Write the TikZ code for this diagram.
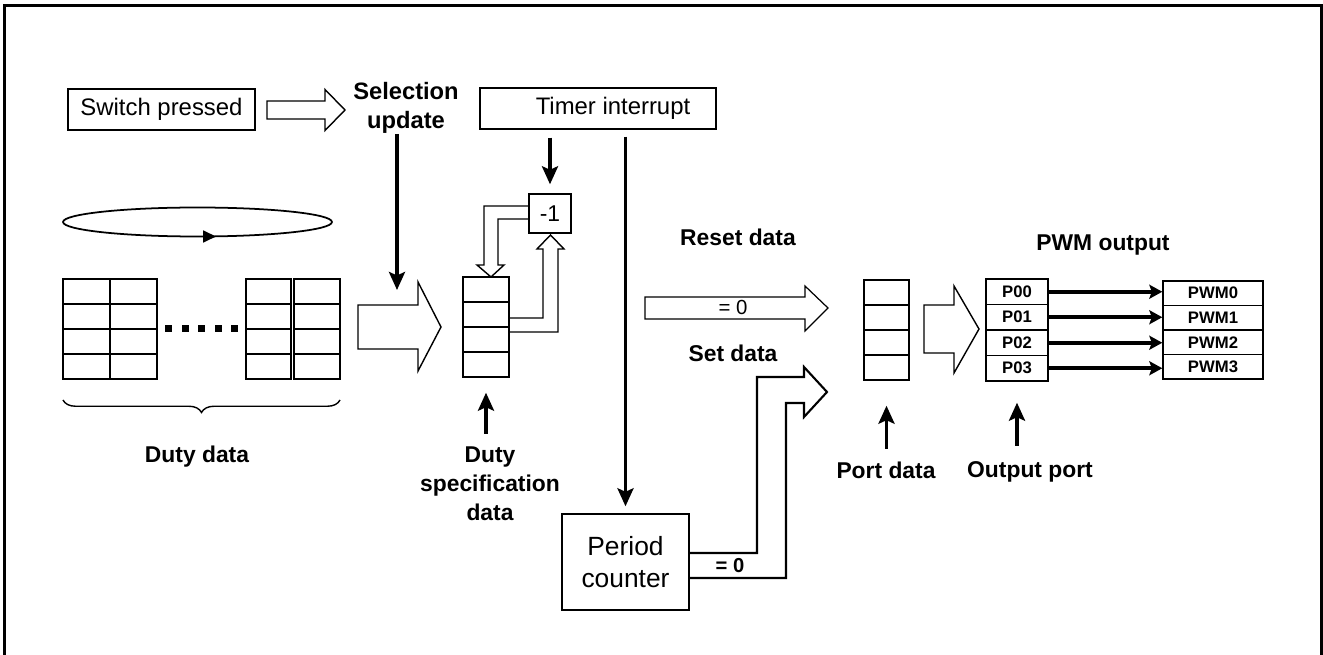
\documentclass[tikz,border=0pt]{standalone}
\usepackage{fontspec}
\setmainfont{Liberation Sans}
\usepackage{tikz}
\usetikzlibrary{decorations.pathreplacing, positioning, calc, arrows.meta}

\begin{document}
\begin{tikzpicture}[x=0.02cm, y=-0.02cm,
        box/.style={draw=black, line width=0.8pt, inner sep=0pt, font=\fontsize{13.6}{16}\selectfont},
        cell/.style={draw=black, line width=0.8pt, inner sep=0pt, minimum width=#1, minimum height=0.5cm},
        lbl/.style={align=center, inner sep=0pt, font=\bfseries\fontsize{13}{16.5}\selectfont},
        portlbl/.style={font=\bfseries\fontsize{9.5}{10}\selectfont},
        hollow/.style={draw=black, line width=0.8pt, line join=miter},
        thk/.style={line width=2pt, -{Stealth[length=0.36cm, width=0.32cm, inset=0.07cm]}},
        thin/.style={line width=2pt, -{Stealth[length=0.26cm, width=0.28cm, inset=0.05cm]}}]
    \useasboundingbox (0,0) rectangle (1323,655);
    \draw[line width=1.7pt] (4.5,670) -- (4.5,5.5) -- (1321.5,5.5) -- (1321.5,670);

    % switch and selection
    \node[box, minimum width=3.74cm, minimum height=0.82cm] (sw) at (161.5,109.5) {Switch pressed};
    \draw[hollow] (267,101) -- (325,101) -- (325,89.5) -- (345,110) -- (325,130.5) -- (325,119) -- (267,119) -- cycle;
    \node[lbl, font=\bfseries\fontsize{13.5}{16.5}\selectfont] (selupd) at (406,108) {Selection\\update};
    \coordinate (selin) at (397,290);
    \draw[thk] (selin |- selupd.south) -- (selin);

    % duty data
    \draw[line width=1pt] (197.5,222) ellipse [x radius=2.69cm, y radius=0.29cm];
    \draw[line width=1pt, -{Triangle[length=0.26cm, width=0.24cm]}] (200,236.5) -- (216,236.5);
    \foreach \cx/\cw [count=\c] in {86.5/0.94cm, 133.5/0.94cm, 268.5/0.9cm, 317/0.92cm}
        \foreach \r in {0,...,3}
            \node[cell=\cw] (dd\c\r) at (\cx,291.5+25*\r) {};
    \foreach \d in {0,...,4}
        \fill (165+16.5*\d,325.5) rectangle ++(7,7);
    \draw[line width=0.8pt, decorate, decoration={brace, amplitude=0.25cm}] (340,400) -- (63,400);
    \node[lbl] (dutydata) at (197,457) {Duty data};
    \draw[hollow] (358,305) -- (418,305) -- (418,282) -- (441,327) -- (418,371) -- (418,349) -- (358,349) -- cycle;

    % duty specification register
    \foreach \r in {0,...,3}
        \node[cell=0.92cm] (spec\r) at (486,289.5+25*\r) {};
    \node[box, minimum width=0.84cm, minimum height=0.78cm, font=\fontsize{13}{15}\selectfont] (minus) at (550,213.5) {-1};
    \draw[hollow] (529,206) -- (484,206) -- (484,265) -- (477,265) -- (491,277) -- (504,265) -- (498,265) -- (498,219) -- (529,219);
    \draw[hollow] (509,318) -- (543,318) -- (543,249) -- (537,249) -- (550.5,235) -- (564,249) -- (558,249) -- (558,332) -- (509,332);
    \draw[thk] ($(spec3.south)+(0,56)$) -- ($(spec3.south)+(0,15)$);
    \node[lbl] (dspec) at (490,484) {Duty\\specification\\data};

    % timer and period counter
    \node[box, minimum width=4.72cm, minimum height=0.82cm] (timer) at (598,108.5) {\hspace{0.6cm}Timer interrupt};
    \draw[thk, shorten <=0.16cm, shorten >=0.18cm] (timer.south -| minus.north) -- (minus.north);
    \node[box, minimum width=2.54cm, minimum height=1.92cm, font=\fontsize{15}{18}\selectfont, align=center] (period) at (625.5,562) {Period\\counter};
    \draw[thk, shorten <=0.14cm, shorten >=0.14cm] (timer.south -| period.north) -- (period.north);

    % reset and set data
    \node[lbl] (reset) at (738,237) {Reset data};
    \draw[hollow, line width=0.7pt] (645,297) -- (805,297) -- (805,286) -- (828,308) -- (805,331) -- (805,319) -- (645,319) -- cycle;
    \node[font=\fontsize{11.6}{13}\selectfont] (rzero) at (733,307) {= 0};
    \node[lbl] (set) at (733,353) {Set data};
    \draw[hollow, line width=1.2pt] (689,553) -- (757,553) -- (757,377) -- (804,377) -- (804,367) -- (827,392) -- (804,417) -- (804,403) -- (786,403) -- (786,578) -- (689,578);
    \node[font=\bfseries\fontsize{11.5}{13}\selectfont] (szero) at (730,566) {= 0};

    % port data and output
    \foreach \r in {0,...,3}
        \node[cell=0.9cm] (port\r) at (886.5,292.5+25*\r) {};
    \draw[hollow] (924,305) -- (954,305) -- (954,286) -- (979,329) -- (954,373) -- (954,353) -- (924,353) -- cycle;
    \foreach \r in {0,...,3} {
        \node[cell=1.24cm, minimum height=0.51cm, portlbl] (op\r) at (1017,291.75+25.5*\r) {P0\r};
        \node[cell=2cm, minimum height=0.49cm, portlbl] (pwm\r) at (1213,293.25+24.5*\r) {PWM\r};
        \draw[thin] (op\r.east) -- (op\r.east -| pwm\r.west);
    }
    \node[lbl] (pwmout) at (1103,245) {PWM output};
    \draw[thk] ($(port3.south)+(0,68)$) -- ($(port3.south)+(0,25)$);
    \node[lbl] (portdata) at (886,470) {Port data};
    \draw[thk] ($(op3.south)+(0,64)$) -- ($(op3.south)+(0,21)$);
    \node[lbl] (outport) at (1030,472) {Output port};
\end{tikzpicture}
\end{document}
